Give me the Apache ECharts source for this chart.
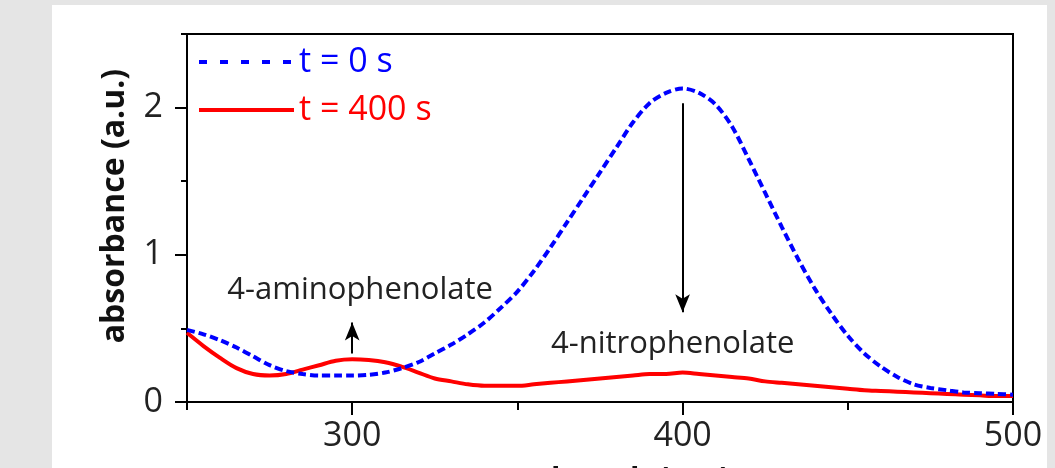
<!DOCTYPE html>
<html>
<head>
<meta charset="utf-8">
<script src="https://cdn.jsdelivr.net/npm/echarts@6/dist/echarts.min.js"></script>
<style>
    html, body { margin: 0; padding: 0; background: #e5e5e5; overflow: hidden; }
    #chart { position: absolute; left: 52px; top: 5px; width: 995px; height: 463px; background: #fff; }
</style>
</head>
<body>
<div id="chart" class="js-spectra"></div>
<script>
// wavelength in nm, every 5 nm
var wavelengths = [250, 255, 260, 265, 270, 275, 280, 285, 290, 295,
    300, 305, 310, 315, 320, 325, 330, 335, 340, 345,
    350, 355, 360, 365, 370, 375, 380, 385, 390, 395,
    400, 405, 410, 415, 420, 425, 430, 435, 440, 445,
    450, 455, 460, 465, 470, 475, 480, 485, 490, 495, 500];
// t = 0 s
var absStart = [0.49, 0.46, 0.42, 0.37, 0.31, 0.25, 0.21, 0.19, 0.18, 0.18,
    0.18, 0.185, 0.20, 0.23, 0.27, 0.33, 0.39, 0.46, 0.54, 0.64,
    0.75, 0.89, 1.05, 1.22, 1.39, 1.56, 1.73, 1.90, 2.03, 2.10,
    2.13, 2.10, 2.02, 1.87, 1.65, 1.42, 1.19, 0.97, 0.77, 0.60,
    0.45, 0.33, 0.24, 0.17, 0.12, 0.095, 0.08, 0.065, 0.06, 0.055, 0.05];
// t = 400 s
var absEnd = [0.47, 0.38, 0.30, 0.23, 0.19, 0.18, 0.19, 0.22, 0.25, 0.28,
    0.29, 0.285, 0.27, 0.24, 0.20, 0.16, 0.14, 0.12, 0.11, 0.11,
    0.11, 0.12, 0.13, 0.14, 0.15, 0.16, 0.17, 0.18, 0.19, 0.19,
    0.20, 0.19, 0.18, 0.17, 0.16, 0.14, 0.13, 0.12, 0.11, 0.10,
    0.09, 0.08, 0.075, 0.07, 0.065, 0.06, 0.055, 0.05, 0.045, 0.04, 0.04];

var seriesNames = ['t = 0 s', 't = 400 s'];
var xMajorTicks = [300, 400, 500];
var xMinorTicks = [250, 350, 450];
var yMajorTicks = [0, 1, 2];
var yMinorTicks = [0.5, 1.5, 2.5];

// annotations: [wavelength, absorbance]
var aminoLabel = [302.4, 0.76];
var nitroLabel = [397, 0.395];
var arrowDown = [[400, 2.03], [400, 0.61]];
var arrowUp = [[300, 0.33], [300, 0.54]];

var chartHolder = document.querySelector('.js-spectra');
var chart = echarts.init(chartHolder);
var fontFamily = '"Open Sans", "Noto Sans", sans-serif';

function pairs(xs, ys) {
    return xs.map(function (x, i) { return [x, ys[i]]; });
}

var option = {
    animation: false,
    grid: {
        left: 135, right: 34, top: 29, bottom: 66,
        outerBoundsMode: 'none',
        containLabel: false,
        show: true, borderColor: '#000', borderWidth: 2, backgroundColor: 'transparent'
    },
    legend: {
        orient: 'vertical',
        left: 140,
        top: 35,
        itemWidth: 95,
        itemHeight: 14,
        itemGap: 14,
        itemStyle: { opacity: 0 },
        textStyle: { fontFamily: fontFamily, fontSize: 34, lineHeight: 34 },
        data: [
            { name: seriesNames[0], textStyle: { color: '#0000ff' }, lineStyle: { type: [8, 13], width: 4 } },
            { name: seriesNames[1], textStyle: { color: '#ff0000' }, lineStyle: { width: 4 } }
        ]
    },
    xAxis: [{
        type: 'value',
        min: 250, max: 500,
        position: 'bottom',
        name: 'wavelength (nm)',
        nameLocation: 'middle',
        nameGap: 63,
        nameTextStyle: { fontFamily: fontFamily, fontSize: 31, fontWeight: 'bold', color: '#111' },
        axisLine: { lineStyle: { color: '#000', width: 2 } },
        axisTick: { customValues: xMajorTicks, length: 13, lineStyle: { color: '#000', width: 2 } },
        axisLabel: { customValues: xMajorTicks, margin: 17, fontFamily: fontFamily, fontSize: 34, color: '#222' },
        splitLine: { show: false }
    }, {
        type: 'value',
        min: 250, max: 500,
        position: 'bottom',
        axisLine: { show: false },
        axisTick: { customValues: xMinorTicks, length: 8, lineStyle: { color: '#000', width: 2 } },
        axisLabel: { show: false },
        splitLine: { show: false }
    }],
    yAxis: [{
        type: 'value',
        min: 0, max: 2.5,
        position: 'left',
        name: 'absorbance (a.u.)',
        nameLocation: 'middle',
        nameGap: 56,
        nameRotate: 90,
        nameTextStyle: { fontFamily: fontFamily, fontSize: 32, fontWeight: 'bold', color: '#111', padding: [0, 0, 0, 24] },
        axisLine: { lineStyle: { color: '#000', width: 2 } },
        axisTick: { customValues: yMajorTicks, length: 12, lineStyle: { color: '#000', width: 2 } },
        axisLabel: { customValues: yMajorTicks, margin: 24, fontFamily: fontFamily, fontSize: 34, color: '#222' },
        splitLine: { show: false }
    }, {
        type: 'value',
        min: 0, max: 2.5,
        position: 'left',
        axisLine: { show: false },
        axisTick: { customValues: yMinorTicks, length: 6, lineStyle: { color: '#000', width: 2 } },
        axisLabel: { show: false },
        splitLine: { show: false }
    }],
    series: [{
        name: seriesNames[0],
        type: 'line',
        data: pairs(wavelengths, absStart),
        smooth: 0.3,
        symbol: 'none',
        z: 3,
        itemStyle: { color: '#0000ff' },
        lineStyle: { color: '#0000ff', width: 4, type: [8, 4] }
    }, {
        name: seriesNames[1],
        type: 'line',
        data: pairs(wavelengths, absEnd),
        smooth: 0.3,
        symbol: 'none',
        z: 2,
        itemStyle: { color: '#ff0000' },
        lineStyle: { color: '#ff0000', width: 4 },
        markLine: {
            silent: true,
            symbol: ['none', 'arrow'],
            symbolSize: 16,
            label: { show: false },
            lineStyle: { color: '#000', width: 2, type: 'solid' },
            data: [
                [{ coord: arrowDown[0] }, { coord: arrowDown[1], symbolSize: [11, 18] }],
                [{ coord: arrowUp[0] }, { coord: arrowUp[1], symbolSize: [11, 18] }]
            ]
        },
        markPoint: {
            silent: true,
            symbol: 'rect',
            symbolSize: 1,
            itemStyle: { color: 'transparent' },
            label: {
                show: true, position: 'inside', formatter: '{b}',
                fontFamily: fontFamily, fontSize: 31, color: '#222'
            },
            data: [
                { name: '4-aminophenolate', coord: aminoLabel },
                { name: '4-nitrophenolate', coord: nitroLabel }
            ]
        }
    }]
};

chart.setOption(option);
</script>
</body>
</html>
